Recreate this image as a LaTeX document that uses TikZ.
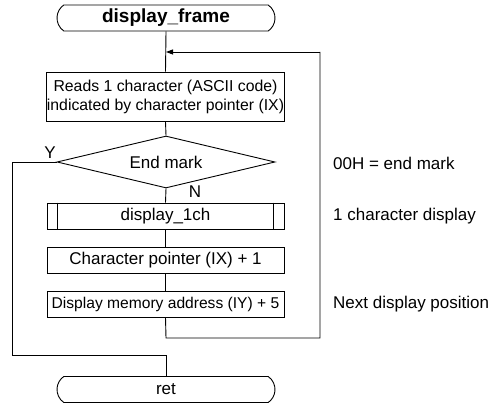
\documentclass[tikz,border=0pt]{standalone}
\usepackage{fontspec}
\setmainfont{Liberation Sans}
\usetikzlibrary{shapes.geometric,shapes.misc,arrows.meta}
\tikzset{
  every node/.style={font=\fontsize{17}{20}\selectfont, inner sep=0pt},
  ln/.style={line width=0.9pt, draw=black},
  term/.style={ln, rounded rectangle, rounded rectangle arc length=110, minimum width=218pt, minimum height=26pt},
  procbox/.style={ln, rectangle, minimum width=237pt, minimum height=26pt},
  decision/.style={ln, diamond, aspect=4.2, minimum width=218pt, minimum height=52pt},
  note/.style={anchor=west},
  arr/.style={ln, -{Triangle[length=7pt,width=5pt]}}
}
\begin{document}
\begin{tikzpicture}[x=1pt,y=1pt]
\useasboundingbox (0,0) rectangle (504,-403);
\node[term, font=\fontsize{19}{22}\selectfont\bfseries] (top) at (166,-18) {display\_frame};
\node[procbox, minimum height=49pt, align=center, font=\fontsize{15.8}{19}\selectfont] (read) at (165.5,-96.5) {Reads 1 character (ASCII code)\\indicated by character pointer (IX)};
\node[decision] (dec) at (166,-162) {End mark};
\node[procbox] (sub) at (165.5,-216) {display\_1ch};
\draw[ln] ([xshift=11pt]sub.north west) -- ([xshift=11pt]sub.south west);
\draw[ln] ([xshift=-11pt]sub.north east) -- ([xshift=-11pt]sub.south east);
\node[procbox] (inc) at (165.5,-260) {Character pointer (IX) + 1};
\node[procbox, font=\fontsize{15.6}{19}\selectfont] (disp) at (165.5,-304) {Display memory address (IY) + 5};
\node[term] (ret) at (166,-389.5) {ret};

\coordinate (j1) at (166,-52);
\coordinate (l1) at (166,-338);
\coordinate (l2) at (320,-338);
\coordinate (l3) at (320,-52);
\coordinate (y1) at (12,-162);
\coordinate (y2) at (12,-355);
\coordinate (y3) at (166,-355);

\draw[ln] (top.south) -- (read.north);
\draw[ln] (read.south) -- (dec.north);
\draw[ln] (dec.south) -- (sub.north);
\draw[ln] (sub.south) -- (inc.north);
\draw[ln] (inc.south) -- (disp.north);
\draw[ln] (disp.south) -- (l1) -- (l2) -- (l3);
\draw[arr] (l3) -- (j1);
\draw[ln] (dec.west) -- (y1) -- (y2) -- (y3) -- (ret.north);

\node (ylab) at (50,-153) {Y};
\node (nlab) at (195,-192) {N};
\node[note] (n1) at (333,-163) {00H = end mark};
\node[note] (n2) at (333,-216) {1 character display};
\node[note] (n3) at (333,-304) {Next display position};
\end{tikzpicture}
\end{document}
